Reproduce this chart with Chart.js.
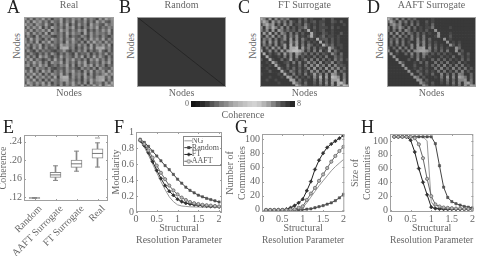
<!DOCTYPE html>
<html>
<head>
<meta charset="utf-8">
<script src="https://cdn.jsdelivr.net/npm/chart.js@4"></script>
<style>
html, body { margin: 0; padding: 0; background: #fff; overflow: hidden; }
#page { position: relative; width: 480px; height: 256px; overflow: hidden; font-family: "Liberation Serif", serif; }
canvas { position: absolute; }
.letter { position: absolute; font-size: 18px; line-height: 18px; color: #222; transform: translateZ(0); }
.note { position: absolute; font-size: 8px; line-height: 10px; color: #666; transform: translateZ(0); }
.side { position: absolute; font-size: 10px; line-height: 10px; color: #666; width: 30px; text-align: center; transform: rotate(-90deg); }
</style>
</head>
<body>
<div id="page">
  <div class="letter" style="left:7px;top:-2px">A</div>
  <div class="letter" style="left:119px;top:-2px">B</div>
  <div class="letter" style="left:238px;top:-2px">C</div>
  <div class="letter" style="left:367px;top:-2px">D</div>
  <div class="letter" style="left:3px;top:118px">E</div>
  <div class="letter" style="left:114px;top:118px">F</div>
  <div class="letter" style="left:235px;top:118px">G</div>
  <div class="letter" style="left:361px;top:118px">H</div>
  <div class="side" style="left:2px;top:41px">Nodes</div>
  <div class="side" style="left:116px;top:41px">Nodes</div>
  <div class="side" style="left:238px;top:41px">Nodes</div>
  <div class="side" style="left:365px;top:41px">Nodes</div>
  <div class="note" style="left:185px;top:99px">0</div>
  <div class="note" style="left:297px;top:99px">8</div>
</div>
<script>
// coherence matrices, one digit per cell (0 dark .. 9 bright)
const realMatrix = [
  '737264836154825374628364173857',
  '372857362743826382537262847326',
  '846275383152738162736184632746',
  '273748162853627482516374825364',
  '637264738152847263748152637482',
  '482736281753628374518273645372',
  '263172645213627153264173526314',
  '628374162853726483516284738263',
  '736281748253618374261738462735',
  '372648153742857462736182647381',
  '641738262351899361527382889462',
  '273162534213473152637152483162',
  '426315262741526317243615263724',
  '372618473152836427381628374162',
  '738264136283617483526174836273',
  '263847261754827362748153627482',
  '572638471352648271638482736153',
  '326174526213427352163526174326',
  '738261847153627483517382647284',
  '264837162753826174638172536847',
  '628174736281899273618462788372',
  '473826162753788362517384789263',
  '286374827153627483627183562738',
  '837262748351726384271638482796'
];
const ftMatrix = [
  '862716253511131412111311311111',
  '586173625152141312312211321311',
  '268571416251231521212311211121',
  '617485261513133621312221312111',
  '526171752423141281212311211111',
  '172816164151413118211321211311',
  '316271526152612138212412212111',
  '153615136171615212182331312111',
  '261726142173714131218131312111',
  '152516137182715153121842412211',
  '415172617188917251413218521211',
  '812615172789986141516128142111',
  '181312517261752414141321631411',
  '118211215161613121413151142311',
  '311821141271312515151413152412',
  '112184112315151262516132613211',
  '211218211412141516272516162321',
  '112111821314131261715171626141',
  '111311182153141316261416171421',
  '211111218215131512725161762151',
  '111211121861412131628171986151',
  '112112111187141211416151778161',
  '111111211118531411315161718961',
  '111111111111852311213141618498'
];
const aaftMatrix = [
  '962615142411111211111111111111',
  '485162514131131211111111111111',
  '157461315141121411111111111111',
  '516374151412122511111211111111',
  '415161641312131171111111111111',
  '161715153141312117111211111111',
  '215161415141511127111311111111',
  '142514125161514111171211111111',
  '151615131162613121117121211111',
  '141415126171614131211731311111',
  '314161516177816141312117411111',
  '711514161678875131415117131111',
  '171211416151641313131211521311',
  '117111114151512111312141131211',
  '111711131161211414141312141311',
  '111173111214141151415121512111',
  '111117111311131415161415151211',
  '111111711213121151614161515131',
  '111111171142131215151315161311',
  '111111117114121411614151651141',
  '111111111751311121517161875141',
  '111111111176131111315141667151',
  '111111111117421311214151617851',
  '111111111111741211112131517387'
];
const randomFill = [{x: 0, y: 1}, {x: 1, y: 1}];
const randomDiagonal = [{x: 0, y: 1}, {x: 1, y: 0}];

const colorbarLevels = [18, 28, 42, 60, 85, 105, 125, 140, 160, 175, 185, 195, 205, 210, 200, 180, 160, 130, 100, 75, 55, 40];

// panel E
const boxLabels = ['Random', 'AAFT Surrogate', 'FT Surrogate', 'Real'];
const boxLow = [0.1178, 0.156, 0.176, 0.185];
const boxQ1 = [0.1178, 0.1626, 0.1842, 0.2043];
const boxMedian = [0.118, 0.168, 0.192, 0.2145];
const boxQ3 = [0.1182, 0.1734, 0.2, 0.2245];
const boxHigh = [0.1182, 0.1877, 0.2195, 0.2375];
const boxOutlier = [null, null, null, 0.248];
const coherenceTicks = [0.12, 0.16, 0.2, 0.24];

// panels F, G, H
const resolution = [0.1, 0.2, 0.3, 0.4, 0.5, 0.6, 0.7, 0.8, 0.9, 1, 1.1, 1.2, 1.3, 1.4, 1.5, 1.6, 1.7, 1.8, 1.9, 2];
const resolutionTicks = [0, 0.5, 1, 1.5, 2];
const modularityTicks = [0, 0.2, 0.4, 0.6, 0.8, 1];
const countTicks = [0, 20, 40, 60, 80, 100];

const modNG = [.88, .81, .71, .6, .49, .38, .28, .19, .13, .09, .075, .07, .065, .063, .062, .06, .06, .06, .058, .058];
const modRandom = [.91, .87, .82, .76, .70, .64, .58, .53, .47, .41, .36, .31, .27, .24, .21, .19, .17, .155, .14, .125];
const modFT = [.89, .83, .74, .63, .52, .42, .33, .26, .21, .16, .13, .11, .10, .09, .085, .08, .075, .07, .068, .065];
const modAAFT = [.90, .85, .77, .68, .58, .49, .41, .33, .27, .22, .18, .15, .125, .11, .10, .09, .085, .08, .075, .07];

const numNG = [0, 0, 0, 0, 0, 0, 0, 0, 0, 3, 10, 18, 26, 34, 41, 48, 55, 61, 66, 71];
const numRandom = [0, 0, 0, 0, 0, 0, 0, 0, 0, 0, 1, 1.5, 3, 4.5, 6, 8, 10, 13, 17, 22];
const numFT = [0, 0, 0, 0, 0, 1, 3, 6, 10, 15, 27, 40, 57, 70, 80, 88, 93, 97, 101, 105];
const numAAFT = [0, 0, 0, 0, 0, 0, 0.5, 1, 3, 5, 14, 23, 31, 41, 50, 59, 68, 76, 83, 89];

const sizeNG = [106, 106, 106, 106, 106, 106, 106, 106, 100, 12, 3, 2, 1.5, 1, 1, 1, 1, 1, 1, 1];
const sizeRandom = [106, 106, 106, 106, 106, 106, 106, 106, 106, 106, 96, 64, 33, 18, 12, 9, 7, 5, 4, 3];
const sizeFT = [106, 106, 106, 106, 101, 84, 60, 40, 22, 4, 2, 1.5, 1.2, 1, 1, 1, 1, 1, 1, 1];
const sizeAAFT = [106, 106, 106, 106, 106, 104, 95, 75, 45, 20, 8, 5, 3.5, 3, 2.5, 2, 2, 1.5, 1.5, 1];

const seriesNames = ['NG', 'Random', 'FT', 'AAFT'];

Chart.defaults.font.family = '"Liberation Serif", serif';
Chart.defaults.font.size = 10;
Chart.defaults.color = '#666';
Chart.defaults.animation = false;
Chart.defaults.plugins.legend.display = false;
Chart.defaults.plugins.tooltip.enabled = false;

const page = document.getElementById('page');
const noGrid = { display: false, drawTicks: false };

function addCanvas(left, top, width, height) {
    const c = document.createElement('canvas');
    c.width = width;
    c.height = height;
    c.style.left = left + 'px';
    c.style.top = top + 'px';
    c.style.width = width + 'px';
    c.style.height = height + 'px';
    page.appendChild(c);
    return c;
}

function grey(v) {
    return 'rgb(' + v + ',' + v + ',' + v + ')';
}

// outline of the plot area, with optional small inward ticks
function framePlugin(withTicks) {
    return {
        id: 'frame' + withTicks,
        afterDatasetsDraw(chart) {
            const a = chart.chartArea, ctx = chart.ctx;
            ctx.save();
            ctx.strokeStyle = '#a0a0a0';
            ctx.lineWidth = 1;
            ctx.strokeRect(a.left + 0.5, a.top + 0.5, a.right - a.left - 1, a.bottom - a.top - 1);
            if (withTicks) {
                ctx.beginPath();
                chart.scales.x.ticks.forEach((t, i) => {
                    const px = Math.round(chart.scales.x.getPixelForTick(i)) + 0.5;
                    ctx.moveTo(px, a.bottom); ctx.lineTo(px, a.bottom - 2);
                    ctx.moveTo(px, a.top); ctx.lineTo(px, a.top + 2);
                });
                chart.scales.y.ticks.forEach((t, i) => {
                    const py = Math.round(chart.scales.y.getPixelForTick(i)) + 0.5;
                    ctx.moveTo(a.left, py); ctx.lineTo(a.left + 2, py);
                    ctx.moveTo(a.right, py); ctx.lineTo(a.right - 2, py);
                });
                ctx.stroke();
            }
            ctx.restore();
        }
    };
}

// puts the chartArea legend in the top right corner and boxes it
const legendCorner = {
    id: 'legendCorner',
    beforeDraw(chart) {
        const l = chart.legend;
        l.left = 74;
        l.top = 18;
        l.bottom = l.top + 200;
    },
    afterDraw(chart) {
        const ctx = chart.ctx;
        ctx.save();
        ctx.strokeStyle = '#888';
        ctx.strokeRect(73.5, 16.5, 38, 29);
        ctx.restore();
    }
};

function legendGlyph(color, style) {
    const c = document.createElement('canvas');
    c.width = 14;
    c.height = 5;
    const g = c.getContext('2d');
    g.strokeStyle = color;
    g.fillStyle = color;
    g.beginPath();
    g.moveTo(6, 2.5);
    g.lineTo(14, 2.5);
    g.stroke();
    if (style === 'rect') g.fillRect(9, 1, 3, 3);
    if (style === 'rectRot') { g.beginPath(); g.moveTo(10.5, 0.5); g.lineTo(12.5, 2.5); g.lineTo(10.5, 4.5); g.lineTo(8.5, 2.5); g.fill(); }
    if (style === 'circle') { g.beginPath(); g.arc(10.5, 2.5, 1.6, 0, 7); g.fillStyle = '#fff'; g.fill(); g.stroke(); }
    return c;
}

function panelTitle(text) {
    return { display: true, text: text, fullSize: false, color: '#666', font: { size: 10, lineHeight: 1, weight: 'normal' }, padding: { top: 0, bottom: 7 } };
}

function heatmap(left, right, canvasLeft, rows, title, base, step) {
    const cols = rows[0].split('').map((d, i) => i);
    const canvas = addCanvas(canvasLeft, 0, right + 2 - canvasLeft, 99);
    new Chart(canvas, {
        type: 'bar',
        data: {
            labels: cols,
            datasets: rows.map((row, r) => ({
                data: cols.map(() => [r, r + 1]),
                backgroundColor: row.split('').map(d => grey(base + d * step)),
                borderWidth: 0,
                barPercentage: 1,
                categoryPercentage: 1,
                grouped: false
            }))
        },
        options: {
            responsive: false,
            layout: { autoPadding: false, padding: { right: 2 } },
            plugins: { title: panelTitle(title) },
            scales: {
                x: {
                    grid: noGrid, border: { display: false }, ticks: { display: false },
                    title: { display: true, text: 'Nodes', padding: 0, color: '#666', font: { size: 10 } },
                    afterFit: s => { s.height = 12; }
                },
                y: {
                    reverse: true, min: 0, max: rows.length,
                    grid: noGrid, border: { display: false }, ticks: { display: false },
                    afterFit: s => { s.width = left - canvasLeft; }
                }
            }
        },
        plugins: [framePlugin(false)]
    });
}

heatmap(24, 114, 10, realMatrix, 'Real', 58, 13);
heatmap(260, 349, 246, ftMatrix, 'FT Surrogate', 42, 16);
heatmap(387, 476, 373, aaftMatrix, 'AAFT Surrogate', 42, 15);

// panel B has no structure except the dark diagonal
new Chart(addCanvas(123, 0, 105, 99), {
    type: 'line',
    data: {
        datasets: [
            { data: randomDiagonal, borderColor: '#262626', borderWidth: 1, pointRadius: 0, order: 0 },
            { data: randomFill, borderWidth: 0, pointRadius: 0, fill: 'origin', backgroundColor: '#373737', order: 1 }
        ]
    },
    options: {
        responsive: false,
        layout: { autoPadding: false, padding: { right: 2 } },
        plugins: { title: panelTitle('Random') },
        scales: {
            x: {
                type: 'linear', min: 0, max: 1,
                grid: noGrid, border: { display: false }, ticks: { display: false },
                title: { display: true, text: 'Nodes', padding: 0, color: '#666', font: { size: 10 } },
                afterFit: s => { s.height = 12; }
            },
            y: {
                min: 0, max: 1,
                grid: noGrid, border: { display: false }, ticks: { display: false },
                afterFit: s => { s.width = 14; }
            }
        }
    },
    plugins: [framePlugin(false)]
});

// colour bar
new Chart(addCanvas(185, 96, 112, 25), {
    type: 'bar',
    data: {
        labels: colorbarLevels.map((v, i) => i),
        datasets: [{
            data: colorbarLevels.map(() => 1),
            backgroundColor: colorbarLevels.map(grey),
            borderWidth: 0,
            barPercentage: 1,
            categoryPercentage: 1
        }]
    },
    options: {
        responsive: false,
        layout: { autoPadding: false, padding: { left: 6, right: 2, top: 5 } },
        scales: {
            x: {
                grid: noGrid, border: { display: false }, ticks: { display: false },
                title: { display: true, text: 'Coherence', padding: 0, color: '#666', font: { size: 10 } },
                afterFit: s => { s.height = 14; }
            },
            y: { display: false, min: 0, max: 1 }
        }
    }
});

// panel E, box plot
new Chart(addCanvas(-2, 125, 112, 131), {
    type: 'bar',
    data: {
        labels: boxLabels,
        datasets: [
            {
                data: boxQ1.map((v, i) => [v, boxQ3[i]]),
                backgroundColor: '#fff', borderColor: '#888', borderWidth: 1, borderSkipped: false,
                barThickness: 11, grouped: false, order: 1
            },
            {
                data: boxLow.map((v, i) => [v, boxHigh[i]]),
                backgroundColor: '#888', borderWidth: 0,
                barThickness: 1, grouped: false, order: 2
            },
            { type: 'line', data: boxMedian, showLine: false, pointStyle: 'line', pointRadius: 5.5, pointBorderColor: '#777', pointBorderWidth: 1, order: 0 },
            { type: 'line', data: boxLow, showLine: false, pointStyle: 'line', pointRadius: 2.5, pointBorderColor: '#888', pointBorderWidth: 1, order: 0 },
            { type: 'line', data: boxHigh, showLine: false, pointStyle: 'line', pointRadius: 2.5, pointBorderColor: '#888', pointBorderWidth: 1, order: 0 },
            { type: 'line', data: boxOutlier, showLine: false, pointStyle: 'line', pointRadius: 2.5, pointBorderColor: '#999', pointBorderWidth: 1, order: 0 }
        ]
    },
    options: {
        responsive: false,
        layout: { autoPadding: false, padding: { top: 10, right: 2 } },
        scales: {
            x: {
                grid: noGrid, border: { display: false },
                ticks: { minRotation: 45, maxRotation: 45, labelOffset: 6, padding: 2, autoSkip: false, font: { size: 10 } },
                afterFit: s => { s.height = 55; }
            },
            y: {
                min: 0.1114, max: 0.2545,
                grid: noGrid, border: { display: false },
                afterBuildTicks: s => { s.ticks = coherenceTicks.map(v => ({ value: v })); },
                ticks: { padding: 2, callback: v => v.toFixed(2).slice(1), font: { size: 10 } },
                title: { display: true, text: 'Coherence', padding: 0, color: '#666', font: { size: 10, lineHeight: 1 } },
                afterFit: s => { s.width = 26; }
            }
        }
    },
    plugins: [framePlugin(true)]
});

function curves(ng, random, ft, aaft) {
    const pts = vals => vals.map((v, i) => ({ x: resolution[i], y: v }));
    return [
        { label: seriesNames[0], data: pts(ng), borderColor: '#999', borderWidth: 1, pointRadius: 0, tension: 0, order: 3 },
        { label: seriesNames[1], data: pts(random), borderColor: '#444', backgroundColor: '#555', borderWidth: 1, pointStyle: 'rect', pointRadius: 1.6, pointBorderWidth: 0.5, order: 2 },
        { label: seriesNames[2], data: pts(ft), borderColor: '#222', backgroundColor: '#333', borderWidth: 1, pointStyle: 'rectRot', pointRadius: 1.8, pointBorderWidth: 0.5, order: 1 },
        { label: seriesNames[3], data: pts(aaft), borderColor: '#666', backgroundColor: '#bbb', borderWidth: 1, pointStyle: 'circle', pointRadius: 1.6, pointBorderWidth: 0.8, order: 0 }
    ];
}

function curvePanel(cfg) {
    const canvas = addCanvas(cfg.canvasLeft, 120, cfg.right + 2 - cfg.canvasLeft, 127);
    new Chart(canvas, {
        type: 'line',
        data: { datasets: curves(cfg.ng, cfg.random, cfg.ft, cfg.aaft) },
        options: {
            responsive: false,
            layout: { autoPadding: false, padding: { top: cfg.top - 120, right: 2 } },
            plugins: cfg.legend ? {
                legend: {
                    display: true,
                    position: 'chartArea',
                    align: 'start',
                    labels: {
                        usePointStyle: true,
                        pointStyleWidth: 5,
                        padding: -1.2,
                        font: { size: 8 },
                        generateLabels: () => seriesNames.map((name, i) => ({
                            text: name,
                            fontColor: '#555',
                            pointStyle: legendGlyph(['#999', '#444', '#222', '#666'][i], ['', 'rect', 'rectRot', 'circle'][i]),
                            datasetIndex: i
                        }))
                    }
                }
            } : {},
            scales: {
                x: {
                    type: 'linear', min: 0, max: cfg.xMax,
                    grid: noGrid, border: { display: false },
                    afterBuildTicks: s => { s.ticks = resolutionTicks.map(v => ({ value: v })); },
                    ticks: { padding: 1, maxRotation: 0, autoSkip: false, callback: v => String(v), font: { size: 10 } },
                    title: { display: true, text: ['Structural', 'Resolution Parameter'], padding: 0, color: '#666', font: { size: 10, lineHeight: 1.25 } },
                    afterFit: s => { s.height = 35; }
                },
                y: {
                    min: cfg.yMin, max: cfg.yMax,
                    grid: noGrid, border: { display: false },
                    afterBuildTicks: s => { s.ticks = cfg.yTicks.map(v => ({ value: v })); },
                    ticks: { padding: 2, autoSkip: false, callback: v => String(v), font: { size: 10 } },
                    title: { display: true, text: cfg.yTitle, padding: 0, color: '#666', font: { size: 10, lineHeight: 1.25 } },
                    afterFit: s => { s.width = cfg.left - cfg.canvasLeft; }
                }
            }
        },
        plugins: cfg.legend ? [framePlugin(true), legendCorner] : [framePlugin(true)]
    });
}

curvePanel({
    canvasLeft: 110, left: 136, right: 222, top: 132, xMax: 2.07, yMin: 0, yMax: 1,
    yTicks: modularityTicks, yTitle: 'Modularity',
    ng: modNG, random: modRandom, ft: modFT, aaft: modAAFT, legend: true
});
curvePanel({
    canvasLeft: 224, left: 262, right: 345, top: 134, xMax: 2.02, yMin: -3, yMax: 107,
    yTicks: countTicks, yTitle: ['Number of', 'Communities'],
    ng: numNG, random: numRandom, ft: numFT, aaft: numAAFT
});
curvePanel({
    canvasLeft: 349, left: 390, right: 474, top: 134, xMax: 2.02, yMin: -3, yMax: 110,
    yTicks: countTicks, yTitle: ['Size of', 'Communities'],
    ng: sizeNG, random: sizeRandom, ft: sizeFT, aaft: sizeAAFT
});
</script>
</body>
</html>
